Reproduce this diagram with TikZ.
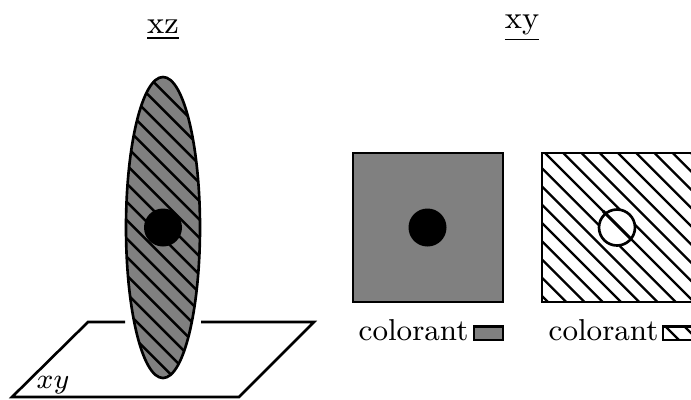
\documentclass[tikz,border=0pt]{standalone}
\usepackage{xcolor}
\usepackage{tikz}
\definecolor{mygray}{RGB}{128,128,128}
\begin{document}
\begin{tikzpicture}[
    x=0.01cm, y=-0.01cm,
    outline/.style={draw=black, line width=0.75pt},
    gray fill/.style={outline, fill=mygray},
    white fill/.style={outline, fill=white},
    hatchline/.style={draw=black, line width=0.7pt},
    chordline/.style={draw=black, line width=0.9pt},
    label/.style={font=\fontsize{8.6}{10}\selectfont, inner sep=0pt},
    title/.style={font=\fontsize{9}{10}\selectfont, inner sep=0pt},
    planetext/.style={font=\fontsize{7.8}{10}\selectfont, inner sep=0pt}
]
\useasboundingbox (0,0) rectangle (691,399);

% plane
\coordinate (pa) at (88,322);
\coordinate (pb) at (314,322);
\coordinate (pc) at (239,397);
\coordinate (pd) at (12,397);
\coordinate (gapl) at (125,322);
\coordinate (gapr) at (201,322);
\draw[outline] (gapl) -- (pa) -- (pd) -- (pc) -- (pb) -- (gapr);
\node[planetext, anchor=base west] (planelabel) at (36,388) {$xy$};

% ellipse, xz view
\fill[mygray] (163,227.5) ellipse [x radius=37, y radius=150.5];
\begin{scope}
    \clip (163,227.5) ellipse [x radius=37, y radius=150.5];
    \foreach \k in {0,...,15}
        \draw[hatchline] ({71.7-18.35*\k+50},50) -- ({71.7-18.35*\k+400},400);
\end{scope}
\draw[outline] (163,227.5) ellipse [x radius=37, y radius=150.5];
\fill[black] (163,227.5) circle [radius=19];
\node[title, anchor=base] (xztitle) at (163,33) {\underline{xz}};

% gray square
\draw[gray fill] (353,153) rectangle (503,302);
\fill[black] (427.5,227.5) circle [radius=19];
\node[title, anchor=base] (xytitle) at (522,28) {\underline{xy}};
\node[label, anchor=base west] (colorantgray) at (358,340) {colorant};
\draw[gray fill] (474,326.5) rectangle (503,340);

% hatched square
\begin{scope}
    \clip (542,153) rectangle (692,302);
    \foreach \k in {-9,...,8}
        \draw[hatchline] ({392+18.25*\k+100},100) -- ({392+18.25*\k+350},350);
\end{scope}
\draw[outline] (542,153) rectangle (692,302);
\draw[white fill] (617,227.5) circle [radius=18];
\draw[chordline] (603,211) -- (631,239);
\node[label, anchor=base west] (coloranthatch) at (548,340) {colorant};
\begin{scope}
    \clip (663,326.5) rectangle (692,340);
    \foreach \k in {0,1}
        \draw[hatchline] ({663+\k*19},324) -- ({683+\k*19},344);
\end{scope}
\draw[outline] (663,326.5) rectangle (692,340);
\end{tikzpicture}
\end{document}
